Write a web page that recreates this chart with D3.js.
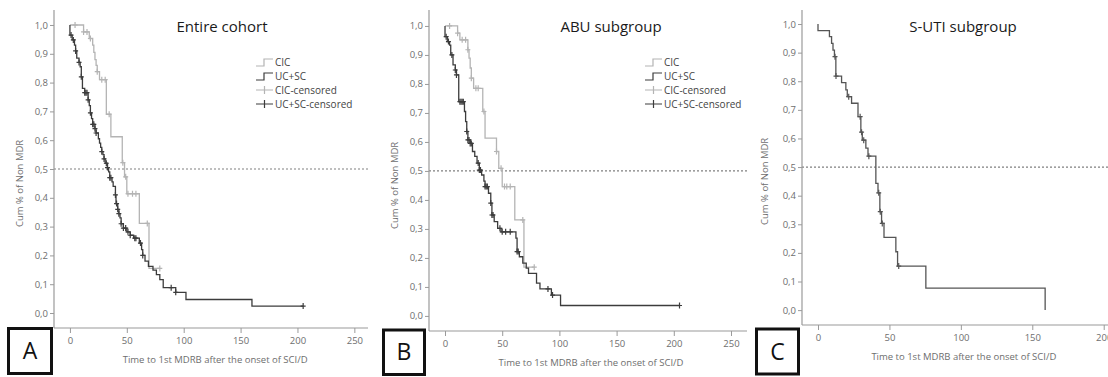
<!DOCTYPE html>
<html>
<head>
<meta charset="utf-8">
<script src="https://cdn.jsdelivr.net/npm/d3@7"></script>
<style>
  body { margin: 0; background: #fff; }
  svg { display: block; }
</style>
</head>
<body>
<div id="chart"></div>
<script>
// ---- data ----
const titles = ["Entire cohort", "ABU subgroup", "S-UTI subgroup"];
const panelLetters = ["A", "B", "C"];
const seriesNames = ["CIC", "UC+SC", "CIC-censored", "UC+SC-censored"];
const xTicksAB = [0, 50, 100, 150, 200, 250];
const xTicksC = [0, 50, 100, 150, 200];
const yTicks = [0, 0.1, 0.2, 0.3, 0.4, 0.5, 0.6, 0.7, 0.8, 0.9, 1.0];
const yTickLabels = ["0,0", "0,1", "0,2", "0,3", "0,4", "0,5", "0,6", "0,7", "0,8", "0,9", "1,0"];
const xTitle = "Time to  1st MDRB after the onset of SCI/D";
const yTitle = "Cum % of Non MDR";

// [time, survival after the drop]
const aCicEvents = [[12, 0.976], [17, 0.953], [20, 0.93], [21, 0.905], [22, 0.88], [23, 0.86], [24, 0.838], [26, 0.81],
  [32, 0.69], [36, 0.612], [46, 0.522], [48, 0.473], [50, 0.414], [61, 0.311], [69.5, 0.155]];
const aCicCensored = [4.5, 12, 15, 18, 24, 28, 31, 34.5, 46.5, 49, 51, 55, 58, 68, 79];
const aUcEvents = [[0, 0.965], [2, 0.948], [4, 0.93], [5, 0.91], [6, 0.885], [8, 0.87], [9, 0.855], [10, 0.82], [11, 0.78],
  [13, 0.765], [16, 0.74], [17, 0.72], [18, 0.695], [19, 0.675], [20, 0.655], [22, 0.64], [23, 0.625], [25, 0.605],
  [26, 0.59], [27, 0.575], [28, 0.56], [29, 0.55], [30, 0.535], [31, 0.52], [33, 0.505], [34, 0.49], [35, 0.47],
  [37, 0.455], [38, 0.44], [40, 0.41], [40.5, 0.38], [42, 0.36], [43, 0.345], [44, 0.33], [45, 0.31], [47, 0.295],
  [50, 0.282], [53, 0.27], [56, 0.26], [61, 0.243], [63, 0.22], [64, 0.2], [66, 0.18], [69, 0.162], [73, 0.149],
  [76, 0.133], [79, 0.116], [82, 0.088], [93, 0.072], [102, 0.047], [160, 0.024]];
const aUcCensored = [1, 3, 5, 8, 10, 13, 14, 15, 16, 18, 20, 21, 22, 23, 28, 30, 32, 33, 35, 36, 40, 41, 42, 43,
  45, 47, 49, 51, 53, 57, 58, 62, 64, 89, 93, 205];

const bCicEvents = [[11, 0.975], [13, 0.952], [20, 0.918], [21, 0.889], [22, 0.855], [23, 0.82], [25, 0.785],
  [33, 0.705], [35, 0.613], [45, 0.567], [47, 0.509], [50, 0.446], [61, 0.331], [69, 0.168]];
const bCicCensored = [4, 11, 15, 18, 20, 23, 27, 29, 34, 45, 49, 52, 54, 57, 68, 78];
const bUcEvents = [[0, 0.963], [2, 0.946], [4, 0.934], [5, 0.9], [7, 0.866], [9, 0.848], [10, 0.831], [12, 0.739],
  [17, 0.705], [18, 0.67], [19, 0.636], [20, 0.607], [22, 0.595], [24, 0.567], [26, 0.55], [28, 0.527], [30, 0.503],
  [32, 0.486], [34, 0.465], [35, 0.446], [38, 0.423], [40, 0.389], [41, 0.348], [43, 0.325], [46, 0.302], [49, 0.29],
  [62, 0.268], [63, 0.222], [65, 0.204], [68, 0.182], [71, 0.165], [73, 0.147], [80, 0.113], [83, 0.093],
  [93, 0.072], [101, 0.036]];
const bUcCensored = [1, 3, 6, 9, 10, 13, 14, 15, 16, 19, 20, 21, 22, 23, 29, 30, 31, 35, 36, 37, 40, 41, 42, 48,
  50, 53, 57, 63, 64, 90, 94, 205];

const cEvents = [[0, 0.977], [8, 0.956], [9.5, 0.932], [10.5, 0.909], [11.5, 0.886], [12.5, 0.818], [16.5, 0.795],
  [19.5, 0.77], [20.5, 0.746], [23.5, 0.723], [28, 0.676], [30, 0.622], [31, 0.594], [33.5, 0.566], [35, 0.538],
  [40.5, 0.443], [42, 0.41], [43.3, 0.344], [44.5, 0.303], [46.2, 0.254], [54.5, 0.204], [55.7, 0.154],
  [75.5, 0.077], [159, 0]];
const cCensored = [11.9, 12.6, 21.5, 29.5, 30.5, 32, 35.6, 42.5, 43.6, 45, 56.5];

// ---- layout ----
const width = 1108, height = 377;
const grayColor = "#b4b4b4", darkColor = "#3c3c3c", axisColor = "#9a9a9a", labelColor = "#6e6e6e";

const panels = [
  { x: [54, 368], xd: [-14, 262], y: [328, 10], yd: [-0.052, 1.052], xTicks: xTicksAB, yTitleX: 23,
    titleX: 222, box: [8.5, 328.5, 43, 45], legendX: 256,
    series: [{ ev: aCicEvents, cen: aCicCensored, color: grayColor }, { ev: aUcEvents, cen: aUcCensored, color: darkColor }] },
  { x: [429, 747], xd: [-14, 264], y: [331, 10], yd: [-0.052, 1.055], xTicks: xTicksAB, yTitleX: 398,
    titleX: 611, box: [383.5, 330, 41, 44.5], legendX: 645,
    series: [{ ev: bCicEvents, cen: bCicCensored, color: grayColor }, { ev: bUcEvents, cen: bUcCensored, color: darkColor }] },
  { x: [802, 1108], xd: [-11.2, 203], y: [325, 10], yd: [-0.052, 1.049], xTicks: xTicksC, yTitleX: 768,
    titleX: 963, box: [756.5, 329, 42, 45], legendX: null,
    series: [{ ev: cEvents, cen: cCensored, color: "#555" }] }
];

const svg = d3.select("#chart").append("svg")
  .attr("width", width)
  .attr("height", height)
  .style("font-family", "'Open Sans', sans-serif");

function survAt(events, t) {
  let s = 1;
  events.forEach(e => { if (e[0] <= t) s = e[1]; });
  return s;
}

function stepPoints(events, censored) {
  const pts = [[0, 1]];
  let s = 1;
  events.forEach(e => {
    pts.push([e[0], s]);
    s = e[1];
    pts.push([e[0], s]);
  });
  const endT = Math.max(events[events.length - 1][0], d3.max(censored));
  pts.push([endT, s]);
  return pts;
}

panels.forEach((p, i) => {
  const x = d3.scaleLinear().domain(p.xd).range(p.x);
  const y = d3.scaleLinear().domain(p.yd).range(p.y);
  const g = svg.append("g");

  // reference line at 0.5
  g.append("line")
    .attr("x1", p.x[0]).attr("x2", p.x[1])
    .attr("y1", y(0.5)).attr("y2", y(0.5))
    .attr("stroke", "#808080")
    .attr("stroke-width", 1.2)
    .attr("stroke-dasharray", "2,2");

  // axes
  const yAxis = g.append("g")
    .attr("transform", `translate(${p.x[0]},0)`)
    .call(d3.axisLeft(y).tickValues(yTicks).tickFormat((d, k) => yTickLabels[k]).tickSize(4).tickPadding(2));
  const xAxis = g.append("g")
    .attr("transform", `translate(0,${p.y[0]})`)
    .call(d3.axisBottom(x).tickValues(p.xTicks).tickSize(5).tickPadding(4));
  [xAxis, yAxis].forEach(a => {
    a.select(".domain").attr("stroke", axisColor).attr("stroke-width", 1.2)
      .attr("d", a === xAxis ? `M${p.x[0]},0H${p.x[1]}` : `M0,${p.y[1]}V${p.y[0]}`);
    a.selectAll(".tick line").attr("stroke", axisColor);
    a.selectAll(".tick text").attr("fill", labelColor).style("font-size", "9.5px").style("font-family", "'Open Sans', sans-serif");
  });

  // curves
  const line = d3.line().x(d => x(d[0])).y(d => y(d[1]));
  p.series.forEach(s => {
    g.append("path")
      .datum(stepPoints(s.ev, s.cen))
      .attr("d", line)
      .attr("fill", "none")
      .attr("stroke", s.color)
      .attr("stroke-width", 1.3);
    g.append("g").selectAll("path")
      .data(s.cen)
      .join("path")
      .attr("d", t => {
        const cx = x(t), cy = y(survAt(s.ev, t));
        return `M${cx - 2.5},${cy}H${cx + 2.5}M${cx},${cy - 3}V${cy + 3}`;
      })
      .attr("stroke", s.color)
      .attr("stroke-width", 1.2);
  });

  // titles
  g.append("text")
    .attr("x", p.titleX).attr("y", 32)
    .attr("text-anchor", "middle")
    .attr("fill", "#1a1a1a")
    .style("font-size", "15px")
    .text(titles[i]);
  g.append("text")
    .attr("x", (x(0) + x(p.xTicks[p.xTicks.length - 1])) / 2 + 3)
    .attr("y", p.y[0] + 35)
    .attr("text-anchor", "middle")
    .attr("fill", labelColor)
    .style("font-size", "9.5px")
    .text(xTitle);
  g.append("text")
    .attr("transform", `translate(${p.yTitleX},${y(0.45)}) rotate(-90)`)
    .attr("text-anchor", "middle")
    .attr("fill", labelColor)
    .style("font-size", "9.5px")
    .text(yTitle);

  // panel letter box
  g.append("rect")
    .attr("x", p.box[0]).attr("y", p.box[1])
    .attr("width", p.box[2]).attr("height", p.box[3])
    .attr("fill", "#fff")
    .attr("stroke", "#111")
    .attr("stroke-width", 3);
  g.append("text")
    .attr("x", p.box[0] + p.box[2] / 2).attr("y", p.box[1] + p.box[3] / 2 + 8)
    .attr("text-anchor", "middle")
    .attr("fill", "#111")
    .style("font-size", "23px")
    .text(panelLetters[i]);

  // legend
  if (p.legendX !== null) {
    const leg = g.append("g").attr("transform", `translate(${p.legendX},0)`);
    const colors = [grayColor, darkColor, grayColor, darkColor];
    const rowsY = [62, 76, 90, 104];
    seriesNames.forEach((name, k) => {
      const ry = rowsY[k];
      if (k < 2) {
        leg.append("path")
          .attr("d", `M0,${ry + 4}H8V${ry - 3}H17`)
          .attr("fill", "none").attr("stroke", colors[k]).attr("stroke-width", 1.2);
      } else {
        leg.append("path")
          .attr("d", `M0,${ry}H17M8.5,${ry - 4}V${ry + 4}M6,${ry}H11`)
          .attr("fill", "none").attr("stroke", colors[k]).attr("stroke-width", 1.2);
      }
      leg.append("text")
        .attr("x", 19).attr("y", ry + 3.5)
        .attr("fill", "#444")
        .style("font-size", "10px")
        .text(name);
    });
  }
});
</script>
</body>
</html>
